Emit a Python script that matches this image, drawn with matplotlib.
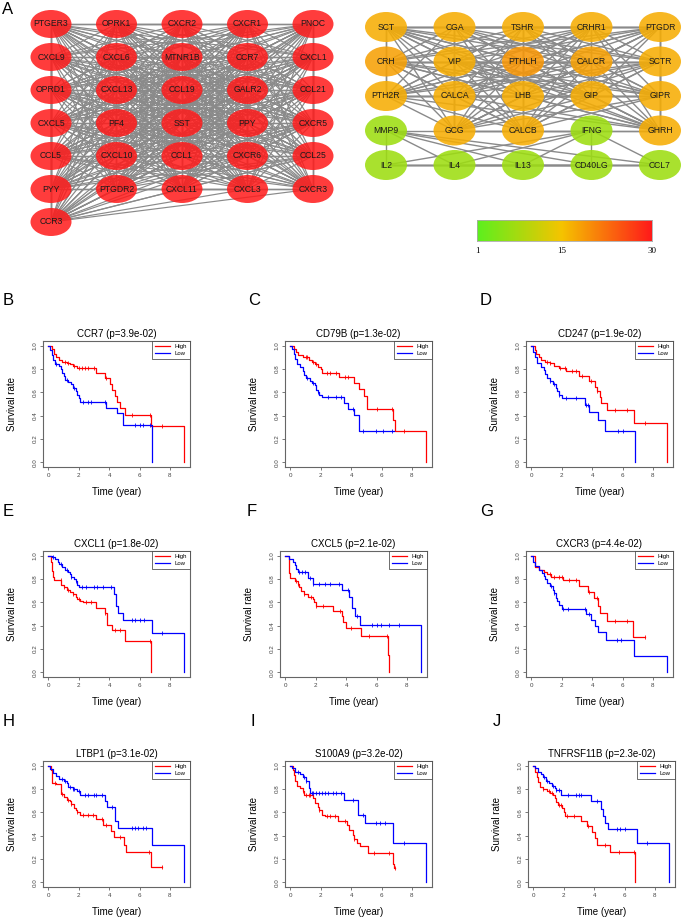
import matplotlib
matplotlib.use('Agg')
import matplotlib.pyplot as plt
from matplotlib.patches import Ellipse
from matplotlib.collections import LineCollection
from matplotlib.colors import LinearSegmentedColormap
from itertools import combinations
import numpy as np

plt.rcParams['font.family'] = ['Liberation Sans', 'DejaVu Sans']

# ---------------- panel A : PPI networks ----------------
net1_rows = [
    ['PTGER3', 'OPRK1', 'CXCR2', 'CXCR1', 'PNOC'],
    ['CXCL9', 'CXCL6', 'MTNR1B', 'CCR7', 'CXCL1'],
    ['OPRD1', 'CXCL13', 'CCL19', 'GALR2', 'CCL21'],
    ['CXCL5', 'PF4', 'SST', 'PPY', 'CXCR5'],
    ['CCL5', 'CXCL10', 'CCL1', 'CXCR6', 'CCL25'],
    ['PYY', 'PTGDR2', 'CXCL11', 'CXCL3', 'CXCR3'],
    ['CCR3'],
]
net2_rows = [
    ['SCT', 'CGA', 'TSHR', 'CRHR1', 'PTGDR'],
    ['CRH', 'VIP', 'PTHLH', 'CALCR', 'SCTR'],
    ['PTH2R', 'CALCA', 'LHB', 'GIP', 'GIPR'],
    ['MMP9', 'GCG', 'CALCB', 'IFNG', 'GHRH'],
    ['IL2', 'IL4', 'IL13', 'CD40LG', 'CCL7'],
]
net2_degree = [
    [17, 17, 17, 17, 17],
    [18, 17, 19, 18, 17],
    [17, 17, 17, 17, 17],
    [7, 17, 17, 7, 17],
    [7, 7, 7, 7, 7],
]
net2_cytokines = ['MMP9', 'IFNG', 'IL2', 'IL4', 'IL13', 'CD40LG', 'CCL7']
cbar_ticks = [1, 15, 30]

# ---------------- panels B-J : Kaplan-Meier ----------------
genes = ['CCR7', 'CD79B', 'CD247', 'CXCL1', 'CXCL5', 'CXCR3', 'LTBP1', 'S100A9', 'TNFRSF11B']
pvals = ['3.9e-02', '1.3e-02', '1.9e-02', '1.8e-02', '2.1e-02', '4.4e-02', '3.1e-02', '3.2e-02', '2.3e-02']
letters = ['B', 'C', 'D', 'E', 'F', 'G', 'H', 'I', 'J']

ccr7_high = [(0, 1.0), (0.2, 0.97), (0.35, 0.93), (0.5, 0.90), (0.7, 0.88), (0.9, 0.86), (1.2, 0.85), (1.4, 0.84),
             (1.6, 0.83), (1.9, 0.81), (3.1, 0.77), (3.75, 0.72), (4.05, 0.67), (4.2, 0.62), (4.35, 0.57),
             (4.5, 0.52), (4.7, 0.47), (5.05, 0.41), (6.75, 0.31), (8.95, 0.0)]
ccr7_high_cens = [1.1, 1.3, 1.7, 2.0, 2.2, 2.4, 2.6, 3.0, 3.8, 5.5, 6.7, 7.5]
ccr7_low = [(0, 1.0), (0.1, 0.96), (0.2, 0.92), (0.3, 0.88), (0.4, 0.84), (0.7, 0.83), (0.8, 0.80), (0.9, 0.77),
            (1.0, 0.74), (1.1, 0.71), (1.3, 0.69), (1.5, 0.67), (1.6, 0.64), (1.8, 0.61), (1.9, 0.58), (2.0, 0.55),
            (2.1, 0.52), (3.8, 0.47), (4.5, 0.42), (4.9, 0.32), (6.8, 0.0)]
ccr7_low_cens = [0.5, 1.2, 1.7, 2.3, 2.6, 2.8, 3.7, 5.7, 6.0, 6.2, 6.7]

cd79b_high = [(0, 1.0), (0.2, 0.97), (0.35, 0.95), (0.5, 0.92), (0.8, 0.90), (1.2, 0.88), (1.4, 0.86), (1.6, 0.84),
              (1.8, 0.82), (2.0, 0.80), (2.1, 0.77), (3.2, 0.73), (4.2, 0.68), (4.5, 0.63), (4.85, 0.57),
              (5.05, 0.46), (6.75, 0.36), (6.9, 0.27), (8.9, 0.0)]
cd79b_high_cens = [1.0, 1.1, 1.5, 1.7, 2.4, 2.6, 3.0, 3.6, 3.8, 5.7, 6.7, 7.5]
cd79b_low = [(0, 1.0), (0.1, 0.97), (0.2, 0.93), (0.3, 0.89), (0.4, 0.84), (0.6, 0.82), (0.8, 0.78), (0.9, 0.75),
             (1.0, 0.72), (1.3, 0.70), (1.4, 0.68), (1.6, 0.66), (1.7, 0.62), (1.8, 0.60), (1.9, 0.58), (2.1, 0.56),
             (3.5, 0.51), (3.8, 0.46), (4.2, 0.41), (4.5, 0.27), (6.8, 0.27)]
cd79b_low_cens = [1.1, 1.5, 1.8, 2.5, 3.0, 3.3, 4.1, 4.8, 5.6, 6.1, 6.7]

cd247_high = [(0, 1.0), (0.2, 0.96), (0.3, 0.93), (0.5, 0.90), (0.6, 0.88), (0.9, 0.86), (1.2, 0.85), (1.5, 0.83),
              (1.8, 0.81), (2.3, 0.78), (3.1, 0.74), (3.8, 0.70), (4.2, 0.65), (4.3, 0.61), (4.5, 0.56),
              (4.6, 0.51), (5.0, 0.45), (6.75, 0.34), (8.95, 0.0)]
cd247_high_cens = [1.0, 1.2, 1.9, 2.2, 2.7, 2.9, 3.3, 3.9, 4.3, 5.5, 6.3, 7.5]
cd247_low = [(0, 1.0), (0.1, 0.95), (0.2, 0.90), (0.35, 0.85), (0.6, 0.82), (0.8, 0.79), (0.9, 0.76), (1.0, 0.72),
             (1.2, 0.70), (1.4, 0.67), (1.6, 0.64), (1.7, 0.61), (1.8, 0.58), (2.0, 0.55), (3.5, 0.49), (3.8, 0.43),
             (4.4, 0.36), (4.85, 0.27), (6.8, 0.0)]
cd247_low_cens = [1.2, 1.5, 1.8, 2.3, 2.9, 3.6, 3.7, 5.7, 6.0]

cxcl1_high = [(0, 1.0), (0.15, 0.95), (0.25, 0.87), (0.3, 0.82), (0.35, 0.79), (0.85, 0.75), (1.0, 0.73), (1.2, 0.71),
              (1.4, 0.69), (1.6, 0.67), (1.8, 0.65), (1.9, 0.63), (2.1, 0.61), (2.3, 0.60), (3.15, 0.55),
              (3.7, 0.51), (3.85, 0.41), (4.2, 0.36), (5.05, 0.27), (6.75, 0.0)]
cxcl1_high_cens = [0.8, 1.0, 1.3, 1.6, 2.0, 2.5, 2.8, 3.7, 4.4, 4.7, 6.7]
cxcl1_low = [(0, 1.0), (0.2, 0.99), (0.4, 0.97), (0.6, 0.95), (0.7, 0.93), (0.9, 0.90), (1.1, 0.88), (1.3, 0.86),
             (1.4, 0.84), (1.5, 0.82), (1.7, 0.80), (1.8, 0.78), (1.9, 0.75), (2.0, 0.73), (4.3, 0.67), (4.45, 0.57),
             (4.6, 0.51), (4.9, 0.45), (6.8, 0.34), (8.95, 0.0)]
cxcl1_low_cens = [0.3, 0.8, 1.2, 1.5, 1.8, 2.2, 2.5, 3.0, 3.2, 3.6, 4.1, 5.5, 5.7, 6.0, 6.3, 7.5]

cxcl5_high = [(0, 1.0), (0.2, 0.93), (0.25, 0.85), (0.3, 0.81), (0.6, 0.78), (0.8, 0.76), (0.9, 0.73), (1.0, 0.70),
              (1.2, 0.67), (1.5, 0.65), (1.8, 0.63), (1.9, 0.60), (2.0, 0.57), (3.1, 0.53), (3.7, 0.48), (3.8, 0.43),
              (4.0, 0.38), (5.0, 0.31), (6.75, 0.15), (6.85, 0.0)]
cxcl5_high_cens = [0.7, 0.8, 1.2, 1.7, 2.0, 2.5, 3.6, 4.3, 5.5, 6.7]
cxcl5_low = [(0, 1.0), (0.2, 0.97), (0.5, 0.95), (0.6, 0.92), (0.7, 0.89), (0.8, 0.86), (1.5, 0.81), (1.8, 0.76),
             (3.75, 0.71), (4.2, 0.65), (4.4, 0.55), (4.55, 0.48), (4.9, 0.41), (8.9, 0.0)]
cxcl5_low_cens = [0.9, 1.1, 1.3, 1.6, 1.8, 2.2, 2.6, 2.9, 3.5, 4.1, 4.7, 5.7, 6.0, 6.3, 6.8, 7.5]

cxcr3_high = [(0, 1.0), (0.2, 0.95), (0.25, 0.90), (0.5, 0.88), (0.8, 0.86), (1.0, 0.84), (1.3, 0.82), (2.1, 0.79),
              (3.1, 0.74), (3.7, 0.69), (4.1, 0.64), (4.4, 0.57), (4.5, 0.51), (5.0, 0.44), (6.7, 0.30), (7.5, 0.30)]
cxcr3_high_cens = [1.2, 1.5, 1.8, 2.0, 2.5, 2.9, 3.8, 4.3, 5.5, 6.3, 7.5]
cxcr3_low = [(0, 1.0), (0.1, 0.95), (0.2, 0.91), (0.5, 0.88), (0.7, 0.85), (0.8, 0.83), (0.9, 0.80), (1.0, 0.77),
             (1.2, 0.74), (1.4, 0.71), (1.5, 0.68), (1.6, 0.64), (1.7, 0.61), (1.8, 0.58), (2.0, 0.54), (3.6, 0.50),
             (3.9, 0.45), (4.2, 0.40), (4.4, 0.35), (4.9, 0.28), (6.75, 0.14), (8.9, 0.0)]
cxcr3_low_cens = [1.3, 1.5, 2.1, 2.4, 3.5, 3.8, 5.6, 5.9]

ltbp1_high = [(0, 1.0), (0.15, 0.96), (0.2, 0.92), (0.25, 0.85), (0.5, 0.84), (0.8, 0.80), (0.85, 0.76), (1.0, 0.73),
              (1.2, 0.71), (1.4, 0.70), (1.5, 0.67), (1.7, 0.64), (1.8, 0.62), (1.9, 0.60), (2.1, 0.58), (3.15, 0.54),
              (3.6, 0.49), (4.1, 0.44), (4.3, 0.39), (4.95, 0.32), (5.1, 0.26), (6.75, 0.13), (7.5, 0.13)]
ltbp1_high_cens = [0.4, 0.9, 1.3, 1.5, 1.9, 2.3, 2.6, 2.9, 3.5, 3.8, 4.7, 6.6, 7.5]
ltbp1_low = [(0, 1.0), (0.1, 0.97), (0.3, 0.94), (0.5, 0.91), (0.7, 0.89), (1.0, 0.87), (1.2, 0.85), (1.3, 0.82),
             (1.6, 0.80), (1.9, 0.78), (2.1, 0.75), (3.7, 0.70), (3.85, 0.65), (4.4, 0.53), (4.55, 0.47),
             (6.8, 0.32), (8.9, 0.0)]
ltbp1_low_cens = [0.9, 1.1, 1.4, 1.6, 1.7, 2.0, 2.4, 2.6, 3.0, 3.1, 3.5, 4.2, 5.5, 5.7, 5.9, 6.2, 6.4]

s100a9_high = [(0, 1.0), (0.15, 0.96), (0.2, 0.92), (0.3, 0.87), (0.4, 0.83), (0.6, 0.81), (0.8, 0.78), (0.9, 0.75),
               (1.5, 0.72), (1.6, 0.68), (1.8, 0.65), (1.9, 0.62), (2.1, 0.58), (2.3, 0.57), (3.1, 0.53),
               (3.75, 0.49), (3.85, 0.45), (4.1, 0.41), (4.2, 0.37), (4.4, 0.34), (4.6, 0.31), (5.1, 0.25),
               (6.75, 0.16), (6.85, 0.12), (6.9, 0.12)]
s100a9_high_cens = [0.8, 1.0, 1.2, 1.3, 1.9, 2.4, 2.6, 2.9, 3.6, 4.2, 5.5, 6.5, 6.9]
s100a9_low = [(0, 1.0), (0.1, 0.98), (0.3, 0.95), (0.6, 0.93), (0.8, 0.90), (1.0, 0.87), (1.2, 0.85), (1.25, 0.81),
              (1.3, 0.77), (3.5, 0.71), (4.45, 0.58), (4.9, 0.51), (6.75, 0.34), (8.95, 0.0)]
s100a9_low_cens = [0.5, 0.9, 1.0, 1.2, 1.4, 1.5, 1.7, 1.9, 2.1, 2.3, 2.5, 2.8, 3.0, 3.3, 4.1, 4.8, 5.6, 5.9, 6.2, 7.5]

tnfrsf11b_high = [(0, 1.0), (0.1, 0.95), (0.2, 0.90), (0.3, 0.86), (0.4, 0.82), (0.6, 0.80), (0.9, 0.78), (1.1, 0.77),
                  (1.3, 0.75), (1.4, 0.72), (1.5, 0.69), (1.6, 0.66), (1.9, 0.64), (2.0, 0.60), (2.1, 0.57),
                  (3.1, 0.53), (3.5, 0.48), (3.85, 0.43), (4.05, 0.38), (4.2, 0.32), (5.05, 0.26), (6.7, 0.0)]
tnfrsf11b_high_cens = [0.6, 1.0, 1.2, 1.7, 1.8, 2.2, 2.7, 3.6, 4.7, 5.6, 6.6]
tnfrsf11b_low = [(0, 1.0), (0.1, 0.98), (0.3, 0.95), (0.5, 0.93), (0.6, 0.90), (0.8, 0.87), (1.0, 0.85), (1.2, 0.83),
                 (1.4, 0.81), (1.5, 0.79), (1.8, 0.75), (3.8, 0.70), (4.45, 0.63), (4.6, 0.57), (4.7, 0.51),
                 (4.9, 0.46), (6.85, 0.34), (8.95, 0.0)]
tnfrsf11b_low_cens = [0.7, 0.9, 1.3, 1.5, 1.7, 2.3, 2.8, 3.0, 3.1, 4.2, 5.5, 5.7, 6.0, 7.5]

curves = [
    (ccr7_high, ccr7_high_cens, ccr7_low, ccr7_low_cens),
    (cd79b_high, cd79b_high_cens, cd79b_low, cd79b_low_cens),
    (cd247_high, cd247_high_cens, cd247_low, cd247_low_cens),
    (cxcl1_high, cxcl1_high_cens, cxcl1_low, cxcl1_low_cens),
    (cxcl5_high, cxcl5_high_cens, cxcl5_low, cxcl5_low_cens),
    (cxcr3_high, cxcr3_high_cens, cxcr3_low, cxcr3_low_cens),
    (ltbp1_high, ltbp1_high_cens, ltbp1_low, ltbp1_low_cens),
    (s100a9_high, s100a9_high_cens, s100a9_low, s100a9_low_cens),
    (tnfrsf11b_high, tnfrsf11b_high_cens, tnfrsf11b_low, tnfrsf11b_low_cens),
]

# ---------------- figure ----------------
W, H = 685, 924
fig = plt.figure(figsize=(W / 100, H / 100), dpi=100)


def px_axes(l, t, w, h):
    return fig.add_axes([l / W, 1 - (t + h) / H, w / W, h / H])


cmap = LinearSegmentedColormap.from_list('deg', [(0, '#5cf01e'), (14 / 29, '#f5c400'), (1, '#ff1a1a')])

axA = px_axes(0, 0, W, 262)
axA.set_xlim(0, W)
axA.set_ylim(262, 0)
axA.axis('off')

# left network: every node linked to every other one
pos1 = {}
for r, row in enumerate(net1_rows):
    for c, name in enumerate(row):
        pos1[name] = (51 + 65.5 * c, 24 + 33 * r)
edges1 = [(pos1[a], pos1[b]) for a, b in combinations(pos1, 2)]
axA.add_collection(LineCollection(edges1, colors='#8a8a8a', linewidths=0.85, zorder=1))
deg1 = len(pos1) - 1
for name, (x, y) in pos1.items():
    axA.add_patch(Ellipse((x, y), 41, 28, fc=cmap((deg1 - 1) / 29), ec='none', alpha=0.85, zorder=2))
    axA.text(x, y, name, ha='center', va='center', fontsize=6.2, color='#1a1a1a', zorder=3)

# right network: hormone cluster + cytokine cluster
pos2, deg2 = {}, {}
for r, row in enumerate(net2_rows):
    for c, name in enumerate(row):
        pos2[name] = (386 + 68.5 * c, 27 + 34.5 * r)
        deg2[name] = net2_degree[r][c]
hormones = [n for n in pos2 if n not in net2_cytokines]
edges2 = [(pos2[a], pos2[b]) for a, b in combinations(hormones, 2)]
edges2 += [(pos2[a], pos2[b]) for a, b in combinations(net2_cytokines, 2)]
axA.add_collection(LineCollection(edges2, colors='#8a8a8a', linewidths=1.0, zorder=1))
for name, (x, y) in pos2.items():
    axA.add_patch(Ellipse((x, y), 42, 30, fc=cmap((deg2[name] - 1) / 29), ec='none', alpha=0.88, zorder=2))
    axA.text(x, y, name, ha='center', va='center', fontsize=6.2, color='#1a1a1a', zorder=3)

# colour scale
axcb = px_axes(477, 220, 175, 21)
axcb.imshow(np.linspace(1, 30, 256)[None, :], cmap=cmap, aspect='auto', extent=(1, 30, 0, 1))
axcb.set_xticks([])
axcb.set_yticks([])
for sp in axcb.spines.values():
    sp.set_color('#aaaaaa')
    sp.set_linewidth(0.6)
for v in cbar_ticks:
    xx = 477 + 175 * (v - 1) / 29
    fig.text(xx / W, 1 - 251 / H, str(v), ha='center', va='center', fontsize=6.5,
             family=['Liberation Serif', 'DejaVu Serif'])

fig.text(2 / W, 1 - 9 / H, 'A', ha='left', va='center', fontsize=12)

# Kaplan-Meier panels
row_tops = [341, 551, 761]
col_lefts = [[43, 285, 526], [43, 280, 526], [43, 285, 528]]
letter_x = [[3, 248, 480], [3, 247, 480], [3, 250, 493]]


def km(ax, steps, cens, color):
    t = [p[0] for p in steps]
    s = [p[1] for p in steps]
    line, = ax.step(t, s, where='post', color=color, lw=0.9)
    cy = [s[np.searchsorted(t, c, side='right') - 1] for c in cens]
    ax.plot(cens, cy, ls='none', marker='|', ms=3.5, mew=0.6, color=color)
    return line


for i, gene in enumerate(genes):
    r, c = divmod(i, 3)
    ax = px_axes(col_lefts[r][c], row_tops[r], 147, 126)
    hi, hi_c, lo, lo_c = curves[i]
    l1 = km(ax, hi, hi_c, '#ff0000')
    l2 = km(ax, lo, lo_c, '#0000ff')
    ax.set_xlim(-0.36, 9.32)
    ax.set_ylim(-0.04, 1.04)
    ax.set_xticks([0, 2, 4, 6, 8])
    ax.set_yticks([0, 0.2, 0.4, 0.6, 0.8, 1.0])
    ax.set_yticklabels(['0.0', '0.2', '0.4', '0.6', '0.8', '1.0'], rotation=90, va='center')
    ax.tick_params(length=2.5, width=0.5, labelsize=4.5, pad=1.5, colors='#444444')
    for sp in ax.spines.values():
        sp.set_color('#666666')
        sp.set_linewidth(0.8)
    ax.set_title(f'{gene} (p={pvals[i]})', fontsize=7, pad=3)
    ax.set_xlabel('Time (year)', fontsize=7)
    ax.set_ylabel('Survival rate', fontsize=7)
    ax.xaxis.set_label_coords(0.5, -20 / 126)
    ax.yaxis.set_label_coords(-26 / 147, 0.5)
    leg = ax.legend([l1, l2], ['High', 'Low'], loc='upper right', fontsize=4.3, fancybox=False,
                    edgecolor='#333333', framealpha=1, borderaxespad=0, handlelength=2.4,
                    handletextpad=0.8, borderpad=0.5, labelspacing=0.3)
    leg.get_frame().set_linewidth(0.5)
    fig.text(letter_x[r][c] / W, 1 - (row_tops[r] - 40) / H, letters[i], ha='left', va='center', fontsize=12)

fig.savefig('out.png', dpi=100)
